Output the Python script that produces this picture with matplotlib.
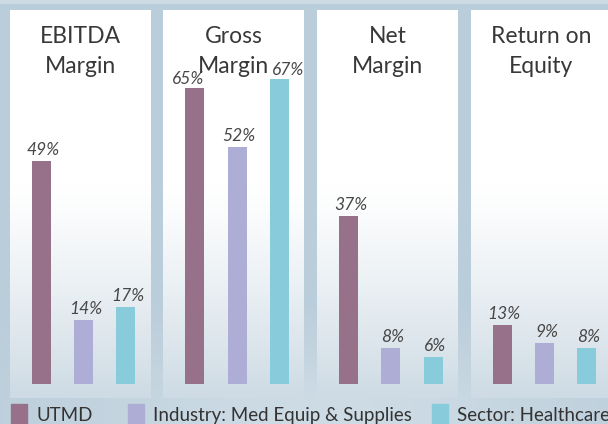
import numpy as np
import matplotlib
matplotlib.use("Agg")
import matplotlib.pyplot as plt
from matplotlib.patches import Rectangle
from matplotlib.transforms import offset_copy

# ---- data ----
metrics = ["EBITDA\nMargin", "Gross\nMargin", "Net\nMargin", "Return on\nEquity"]
series = ["UTMD", "Industry: Med Equip & Supplies", "Sector: Healthcare"]
utmd = [49, 65, 37, 13]
industry = [14, 52, 8, 9]
sector = [17, 67, 6, 8]
colors = ["#967189", "#adadd5", "#88ccdb"]

plt.rcParams['font.family'] = ['Lato', 'DejaVu Sans']

W, H = 608, 424
fig = plt.figure(figsize=(W / 100, H / 100), dpi=100)

# ---- background ----
bg_ax = fig.add_axes([0, 0, 1, 1])
yy, xx = np.mgrid[0:H, 0:W]
base = np.array([186, 205, 218], float)
light = np.array([218, 229, 236], float)
t = np.zeros((H, W))
t += np.clip((yy - 300) / 100, 0, 1) * 0.6 * np.exp(-((xx - 330) / 260) ** 2)
t[yy < 4] = 0.6
img = base[None, None, :] * (1 - t[..., None]) + light[None, None, :] * t[..., None]
bg_ax.imshow(img.astype(np.uint8), extent=[0, W, H, 0], aspect='auto')
bg_ax.set_xlim(0, W)
bg_ax.set_ylim(H, 0)
bg_ax.axis('off')

# ---- panels ----
px_per_unit = 4.55
baseline_px = 384
top_px, bottom_px = 10, 398
panel_w = 141
lefts = [10, 163.3, 317, 470.7]
bar_off = 31.5
bar_step = 42.25
bar_w = 19 / bar_step
title_baselines = [43, 73]
# label nudges in pixels (dx, dy) for crowded labels
label_nudge = {(1, 0): (-9, -2), (1, 2): (7, -2)}

ylo = -(bottom_px - baseline_px) / px_per_unit
yhi = (baseline_px - top_px) / px_per_unit
xlo = -bar_off / bar_step
xhi = (panel_w - bar_off) / bar_step

# panel gradient
n = 200
r = np.linspace(0, 1, n)[:, None]
white = np.array([255, 255, 255], float)
bot = np.array([206, 219, 228], float)
f = np.clip((r - 0.45) / 0.55, 0, 1) ** 1.2
grad = white[None, :] * (1 - f) + bot[None, :] * f
grad = np.repeat(grad[:, None, :], 4, axis=1).astype(np.uint8)

values = [utmd, industry, sector]
for i, m in enumerate(metrics):
    ax = fig.add_axes([lefts[i] / W, (H - bottom_px) / H, panel_w / W, (bottom_px - top_px) / H])
    ax.imshow(grad, extent=[xlo, xhi, ylo, yhi], aspect='auto', zorder=0)
    ax.set_xlim(xlo, xhi)
    ax.set_ylim(ylo, yhi)
    ax.axis('off')
    for j, vals in enumerate(values):
        v = vals[i]
        ax.bar(j, v, width=bar_w, color=colors[j], zorder=2)
        dx, dy = label_nudge.get((i, j), (0, 0))
        tr = offset_copy(ax.transData, fig=fig, x=(2 + dx) * 0.72, y=(6 + dy) * 0.72,
                         units='points')
        ax.text(j, v, f"{v}%", ha='center', va='baseline', fontsize=12.5,
                style='italic', color='#474747', zorder=3, transform=tr)
    for line, by in zip(m.split("\n"), title_baselines):
        ax.text(0.5, (bottom_px - by) / (bottom_px - top_px), line, transform=ax.transAxes,
                ha='center', va='baseline', fontsize=16.5, color='#383838', zorder=3)

# ---- legend ----
leg_sq_x = [11, 128, 432]
for k, name in enumerate(series):
    fig.patches.append(Rectangle((leg_sq_x[k] / W, 0), 16 / W, 20 / H,
                                 transform=fig.transFigure, color=colors[k], zorder=5))
    fig.text((leg_sq_x[k] + 25) / W, (H - 421) / H, name, ha='left', va='baseline',
             fontsize=13.5, color='#333333', zorder=5)

fig.savefig("out.png", dpi=100)
